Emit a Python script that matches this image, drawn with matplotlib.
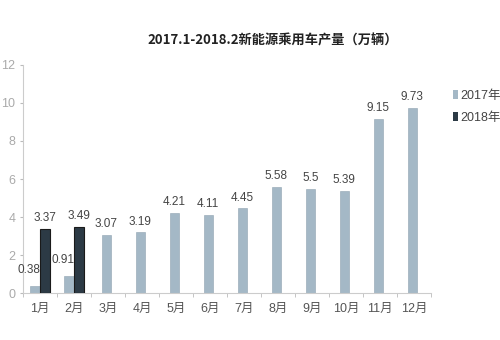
import matplotlib
matplotlib.use("Agg")
import matplotlib.pyplot as plt
import numpy as np
from matplotlib.patches import Patch

plt.rcParams['font.family'] = ['Noto Sans CJK SC', 'DejaVu Sans']

months = ["1月", "2月", "3月", "4月", "5月", "6月", "7月", "8月", "9月", "10月", "11月", "12月"]
v2017 = [0.38, 0.91, 3.07, 3.19, 4.21, 4.11, 4.45, 5.58, 5.5, 5.39, 9.15, 9.73]
v2018 = [3.37, 3.49, None, None, None, None, None, None, None, None, None, None]
labels2017 = ["0.38", "0.91", "3.07", "3.19", "4.21", "4.11", "4.45", "5.58", "5.5", "5.39", "9.15", "9.73"]
labels2018 = ["3.37", "3.49"]
series_names = ["2017年", "2018年"]
title = "2017.1-2018.2新能源乘用车产量（万辆）"

numfam = ['Liberation Sans', 'Noto Sans CJK SC']

c17 = "#a4b8c6"
c18 = "#2c3a45"

fig = plt.figure(figsize=(5, 3.4), dpi=100)
ax = fig.add_axes([0.046, 0.138, 0.816, 0.671])

w = 0.28
x = np.arange(len(months))
for i in x:
    if v2018[i] is not None:
        ax.bar(i - w/2, v2017[i], w, color=c17, edgecolor="#8fa3b1", linewidth=0.4)
        ax.text(i - 0.33, v2017[i] + 0.5, labels2017[i], ha="center", va="bottom",
                fontsize=8.5, color="#444444", family=numfam, zorder=5)
        ax.bar(i + w/2, v2018[i], w, color=c18, edgecolor="#1a1a1a", linewidth=0.8, zorder=3)
        ax.text(i + w/2, v2018[i] + 0.25, labels2018[i], ha="center", va="bottom",
                fontsize=8.5, color="#444444", family=numfam)
    else:
        ax.bar(i - 0.05, v2017[i], w, color=c17, edgecolor="#8fa3b1", linewidth=0.4)
        ax.text(i - 0.05, v2017[i] + 0.25, labels2017[i], ha="center", va="bottom",
                fontsize=8.5, color="#444444", family=numfam)

ax.set_xlim(-0.5, len(months) - 0.5)
ax.set_ylim(0, 12)
ax.set_yticks(np.arange(0, 13, 2))
ax.set_yticklabels([str(t) for t in range(0, 13, 2)], color="#aaaaaa", fontsize=9, family=numfam)
ax.set_xticks(x)
ax.set_xticklabels(months, fontsize=9, color="#555555", family=numfam)
ax.set_xticks(np.arange(-0.5, len(months) + 0.5, 1), minor=True)
ax.tick_params(axis="x", which="major", length=0, pad=7)
ax.tick_params(axis="x", which="minor", length=3, color="#bbbbbb", direction="out")
ax.tick_params(axis="y", length=2.5, color="#bbbbbb", pad=3)
for s in ["top", "right"]:
    ax.spines[s].set_visible(False)
ax.spines["left"].set_color("#cccccc")
ax.spines["bottom"].set_color("#cccccc")

fig.text(0.545, 0.88, title, ha="center", va="center", fontsize=9.5, fontweight="bold", color="#222222")

handles = [Patch(facecolor=c17, edgecolor="none"), Patch(facecolor=c18, edgecolor="none")]
fig.legend(handles, series_names, loc="upper left", bbox_to_anchor=(0.905, 0.735),
           frameon=False, prop={'family': numfam, 'size': 9}, handlelength=0.4, handleheight=0.7,
           handletextpad=0.2, labelspacing=0.8, labelcolor="#444444", borderpad=0, borderaxespad=0)

fig.savefig("out.png", dpi=100)
